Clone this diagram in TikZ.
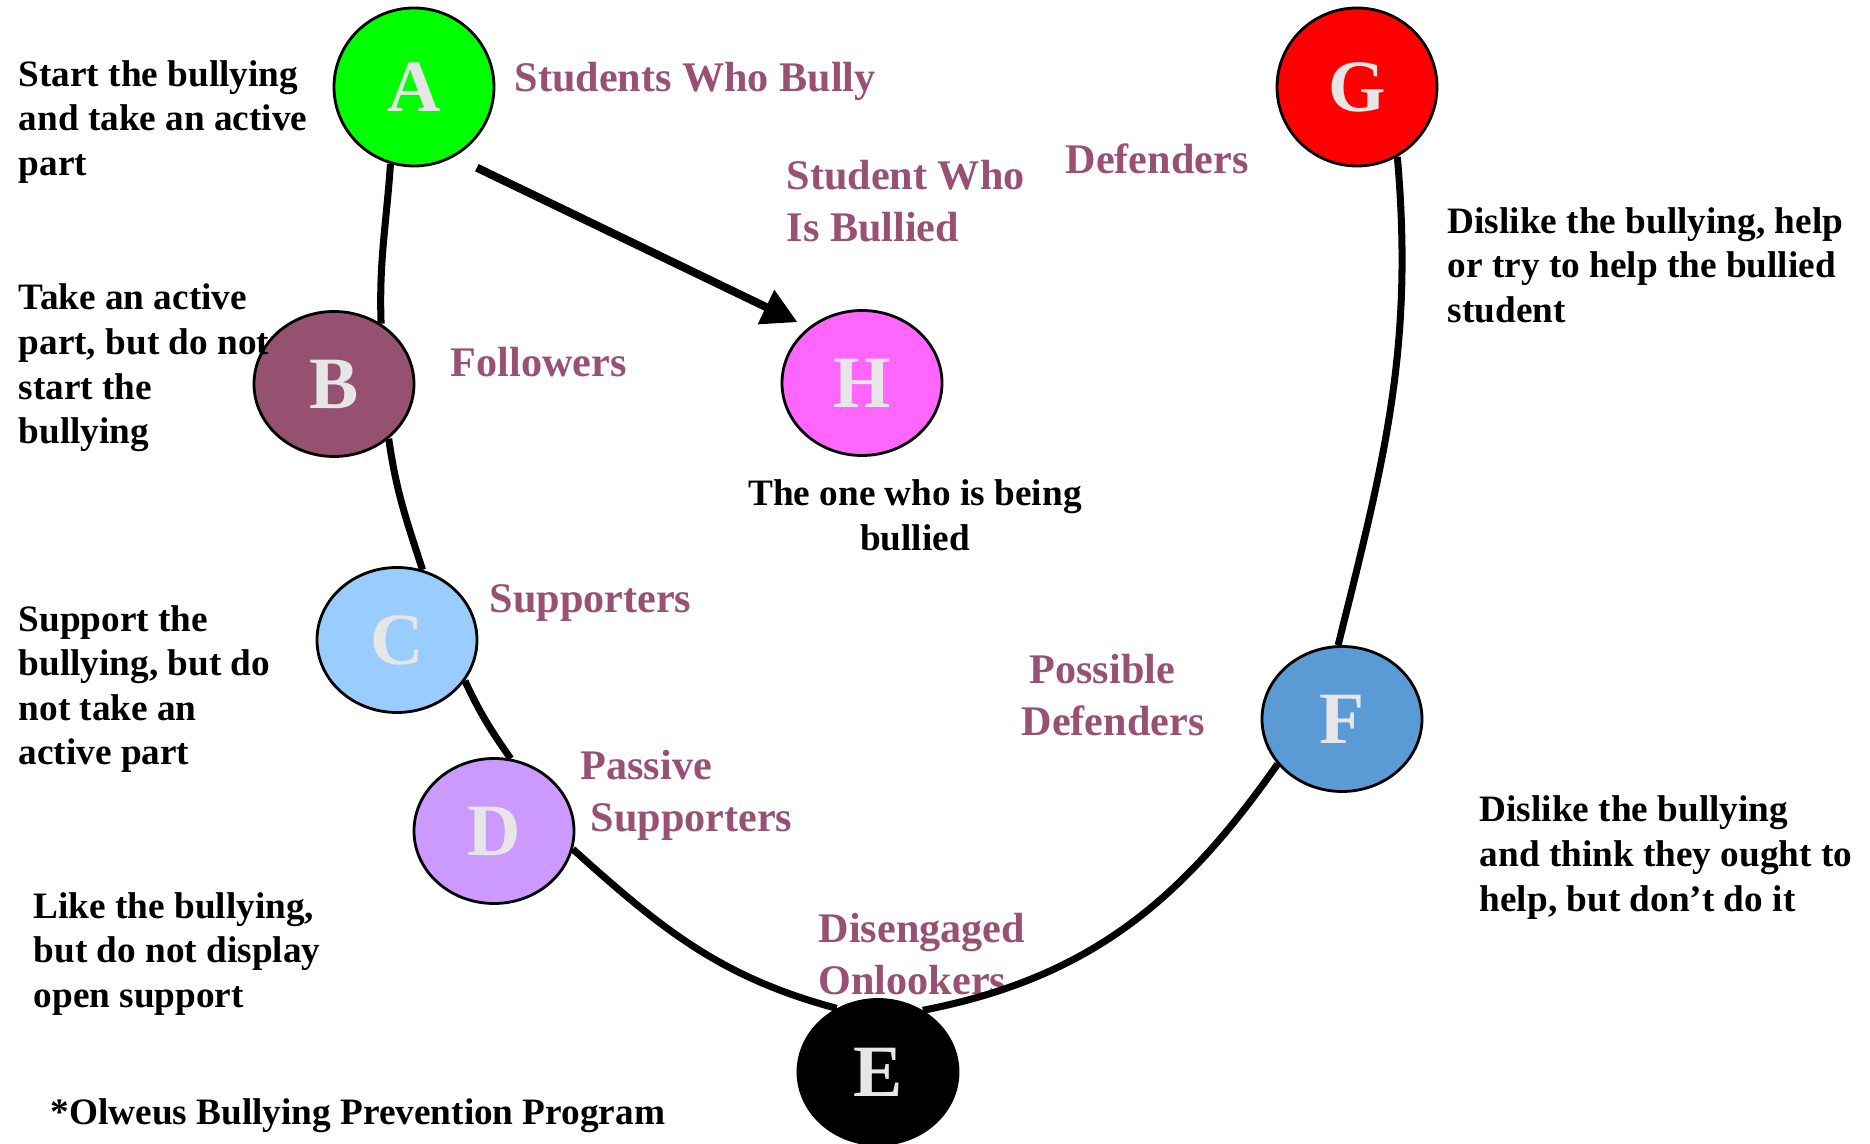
\documentclass[tikz,border=0pt]{standalone}
\usepackage{fontspec}
\setmainfont{Liberation Serif}
\usetikzlibrary{shapes.geometric,arrows.meta}
\definecolor{mauve}{RGB}{152,80,116}
\definecolor{plum}{RGB}{150,80,112}
\definecolor{letter}{RGB}{230,230,230}
\definecolor{hpink}{RGB}{255,102,255}
\definecolor{sky}{RGB}{153,204,255}
\definecolor{lilac}{RGB}{204,153,255}
\definecolor{steel}{RGB}{91,155,213}
\begin{document}
\begin{tikzpicture}[align=left]
\tikzstyle{role} = [ellipse, draw=black, line width=0.8pt, minimum width=1.6cm, minimum height=1.45cm, inner sep=0pt, text=letter, font=\fontsize{21}{21}\selectfont\bfseries]
\tikzstyle{tall} = [minimum height=1.58cm]
\tikzstyle{note} = [anchor=west, inner sep=0pt, font=\fontsize{10.6}{12.7}\selectfont\bfseries]
\tikzstyle{tag} = [anchor=west, inner sep=0pt, text=mauve, font=\fontsize{12}{14.7}\selectfont\bfseries]
\tikzstyle{curve} = [line width=2pt]
\tikzstyle{arrow} = [line width=2.3pt, -{Triangle[length=0.35cm, width=0.36cm]}]
\useasboundingbox (0,0) rectangle (18.7,-11.44);
    \path
        (4.14, -0.87) node[role, tall, fill=green] (A) {A}
        (3.34, -3.84) node[role, fill=plum] (B) {B}
        (3.97, -6.40) node[role, fill=sky] (C) {C}
        (4.94, -8.31) node[role, fill=lilac] (D) {D}
        (8.78, -10.72) node[role, fill=black] (E) {E}
        (13.42, -7.19) node[role, fill=steel] (F) {F}
        (13.57, -0.87) node[role, tall, fill=red] (G) {G}
        (8.62, -3.83) node[role, fill=hpink] (H) {H};

    \path
        (0.18, -1.22) node[note] (startnote) {Start the bullying\\and take an active\\part}
        (0.18, -3.68) node[note] (follownote) {Take an active\\part, but do not\\start the\\bullying}
        (0.18, -6.89) node[note] (supportnote) {Support the\\bullying, but do\\not take an\\active part}
        (0.33, -9.54) node[note] (passivenote) {Like the bullying,\\but do not display\\open support}
        (0.50, -11.16) node[note] (source) {*Olweus Bullying Prevention Program}
        (9.15, -5.15) node[note, anchor=center, align=center] (victimnote) {The one who is being\\bullied}
        (14.47, -2.65) node[note] (defendnote) {Dislike the bullying, help\\or try to help the bullied\\student}
        (14.79, -8.575) node[note] (possiblenote) {Dislike the bullying\\and think they ought to\\help, but don’t do it};

    \path
        (5.14, -0.815) node[tag] (bully) {Students Who Bully}
        (7.86, -2.01) node[tag] (victim) {Student Who\\Is Bullied}
        (10.65, -1.59) node[tag] (defenders) {Defenders}
        (4.50, -3.62) node[tag] (followers) {Followers}
        (4.89, -6.035) node[tag] (supporters) {Supporters}
        (5.80, -7.955) node[tag] (passive) {Passive\\\hspace{0.1cm}Supporters}
        (10.21, -6.95) node[tag] (possible) {\hspace{0.08cm}Possible\\Defenders}
        (8.18, -9.54) node[tag] (disengaged) {Disengaged\\Onlookers};

    \draw [curve] (A.-107) to[out=-94, in=92] (B.52)
        (B.-45) to[out=-82, in=108] (C.70)
        (C.-31) to[out=-65, in=125] (D.77)
        (D.-13) to[out=-42, in=165] (E.123)
        (E.54) to[out=11, in=-125] (F.-145)
        (F.93) to[out=76, in=-85] (G.-60);
    \draw [arrow, shorten <=0.25cm, shorten >=0.12cm] (A.-60) -- (H.134);
\end{tikzpicture}
\end{document}
